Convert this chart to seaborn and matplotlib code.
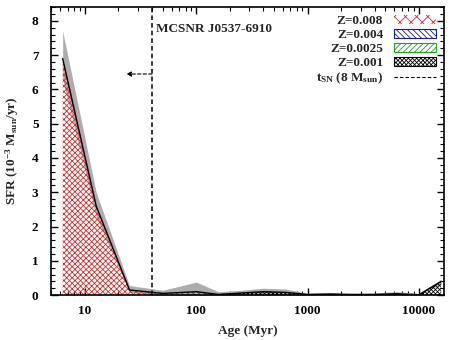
import numpy as np
import pandas as pd
import matplotlib
matplotlib.use('Agg')
import matplotlib.pyplot as plt
import seaborn as sns
from matplotlib.patches import Patch
from matplotlib.lines import Line2D
from matplotlib.ticker import MultipleLocator, LogLocator, NullFormatter, FixedLocator, FixedFormatter

# Data
age = [6.3, 12.6, 25.1, 50.1, 100, 158, 251, 398, 631, 1000, 1585, 2512, 3981, 6310, 10000, 15849]
sfr_total = [6.9, 2.6, 0.15, 0.05, 0.10, 0.02, 0.06, 0.10, 0.08, 0.02, 0.03, 0.02, 0.02, 0.04, 0.01, 0.40]
sfr_upper = [7.7, 3.0, 0.28, 0.14, 0.38, 0.10, 0.14, 0.20, 0.18, 0.05, 0.08, 0.04, 0.06, 0.10, 0.05, 0.46]
sfr_lower = [6.3, 2.3, 0.08, 0.0, 0.0, 0.0, 0.0, 0.0, 0.0, 0.0, 0.0, 0.0, 0.0, 0.0, 0.0, 0.32]
z008 = [6.9, 2.6, 0.15, 0.02, 0.0, 0.0, 0.0, 0.0, 0.0, 0.0, 0.0, 0.0, 0.0, 0.0, 0.0, 0.0]
z004 = [0.0, 0.0, 0.0, 0.03, 0.10, 0.02, 0.0, 0.0, 0.0, 0.0, 0.0, 0.0, 0.0, 0.0, 0.0, 0.0]
z0025 = [0.0, 0.0, 0.0, 0.0, 0.0, 0.0, 0.0, 0.0, 0.0, 0.0, 0.0, 0.0, 0.0, 0.0, 0.0, 0.0]
z001 = [0.0, 0.0, 0.0, 0.0, 0.0, 0.0, 0.06, 0.10, 0.08, 0.02, 0.03, 0.02, 0.02, 0.04, 0.01, 0.40]
t_sn = 40.0
snr_name = "MCSNR J0537-6910"

sns.set_theme(style='ticks')
plt.rcParams['font.family'] = ['Liberation Serif', 'DejaVu Serif']
plt.rcParams['font.weight'] = 'bold'
plt.rcParams['mathtext.fontset'] = 'custom'
plt.rcParams['mathtext.rm'] = 'Liberation Serif:bold'
plt.rcParams['mathtext.it'] = 'Liberation Serif:bold'
plt.rcParams['mathtext.bf'] = 'Liberation Serif:bold'
plt.rcParams['hatch.linewidth'] = 0.6

fig = plt.figure(figsize=(4.53, 3.40), dpi=100)
ax = fig.add_axes([0.1126, 0.132, 0.8674, 0.847])

df = pd.DataFrame({'age': age, 'sfr': sfr_total})

ax.fill_between(age, sfr_lower, sfr_upper, color='#adadad', lw=0, zorder=1)

a = np.array(z008); b = np.array(z004); c = np.array(z0025); d = np.array(z001)
ax.fill_between(age, 0, a, facecolor='none', edgecolor='#d42a2a', hatch='xxxxxx', lw=0, zorder=2)
ax.fill_between(age, a, a + b, facecolor='none', edgecolor='#1a1a8c', hatch='\\\\\\\\\\\\', lw=0, zorder=2)
ax.fill_between(age, a + b, a + b + c, facecolor='none', edgecolor='#20a020', hatch='//////', lw=0, zorder=2)
ax.fill_between(age, a + b + c, a + b + c + d, facecolor='none', edgecolor='black', hatch='xxxxxxxx', lw=0, zorder=2)

sns.lineplot(data=df, x='age', y='sfr', color='black', lw=1.0, ax=ax, zorder=3)

ax.axvline(t_sn, color='black', ls=(0, (3, 2)), lw=1.1, zorder=4)
ax.annotate('', xy=(23.5, 6.45), xytext=(t_sn, 6.45),
            arrowprops=dict(arrowstyle='-|>', ls=(0, (3, 2)), lw=0.8, color='black',
                            mutation_scale=7, shrinkA=0, shrinkB=0))
ax.text(43.5, 7.75, snr_name, fontsize=9.5, va='center', ha='left')

ax.set_xscale('log')
ax.set_xlim(4.95, 16800)
ax.set_ylim(0, 8.4)
ax.xaxis.set_major_locator(FixedLocator([10, 100, 1000, 10000]))
ax.xaxis.set_major_formatter(FixedFormatter(['10', '100', '1000', '10000']))
ax.xaxis.set_minor_locator(LogLocator(base=10, subs=np.arange(2, 10)))
ax.xaxis.set_minor_formatter(NullFormatter())
ax.yaxis.set_major_locator(MultipleLocator(1))
ax.yaxis.set_minor_locator(MultipleLocator(0.2))
ax.tick_params(which='both', direction='in', top=True, right=True, labelsize=9.5, colors='black')
ax.tick_params(which='major', length=5, width=1)
ax.tick_params(which='minor', length=3, width=0.8)
ax.tick_params(axis='x', which='major', pad=7)
ax.tick_params(axis='y', which='major', pad=9)
for s in ax.spines.values():
    s.set_linewidth(1.2)
    s.set_color('black')

ax.set_xlabel('Age (Myr)', fontsize=9.5, fontweight='bold', labelpad=6)
ax.set_ylabel(r'SFR (10$^{-3}$ M$_{\rm sun}$/yr)', fontsize=9.5, fontweight='bold', labelpad=8)

handles = [
    Patch(facecolor='none', edgecolor='#d42a2a', hatch='xxx', lw=0),
    Patch(facecolor='none', edgecolor='#1a1a8c', hatch='\\\\\\\\\\\\', lw=0.8),
    Patch(facecolor='none', edgecolor='#20a020', hatch='//////', lw=0.8),
    Patch(facecolor='none', edgecolor='black', hatch='xxxxxxxx', lw=0.8),
    Line2D([0], [0], color='black', ls=(0, (3, 2)), lw=0.8),
]
labels = ['Z=0.008', 'Z=0.004', 'Z=0.0025', 'Z=0.001', r't$_{\rm SN}$ (8 M$_{\rm sun}$)']
leg = ax.legend(handles, labels, loc='upper right', frameon=False, markerfirst=False,
                prop={'size': 9.5, 'weight': 'bold'}, handlelength=3.2, handleheight=0.6,
                labelspacing=0.15, borderaxespad=0.2, handletextpad=0.8)
for t in leg.get_texts():
    t.set_ha('right')

fig.savefig('out.png', dpi=100)
